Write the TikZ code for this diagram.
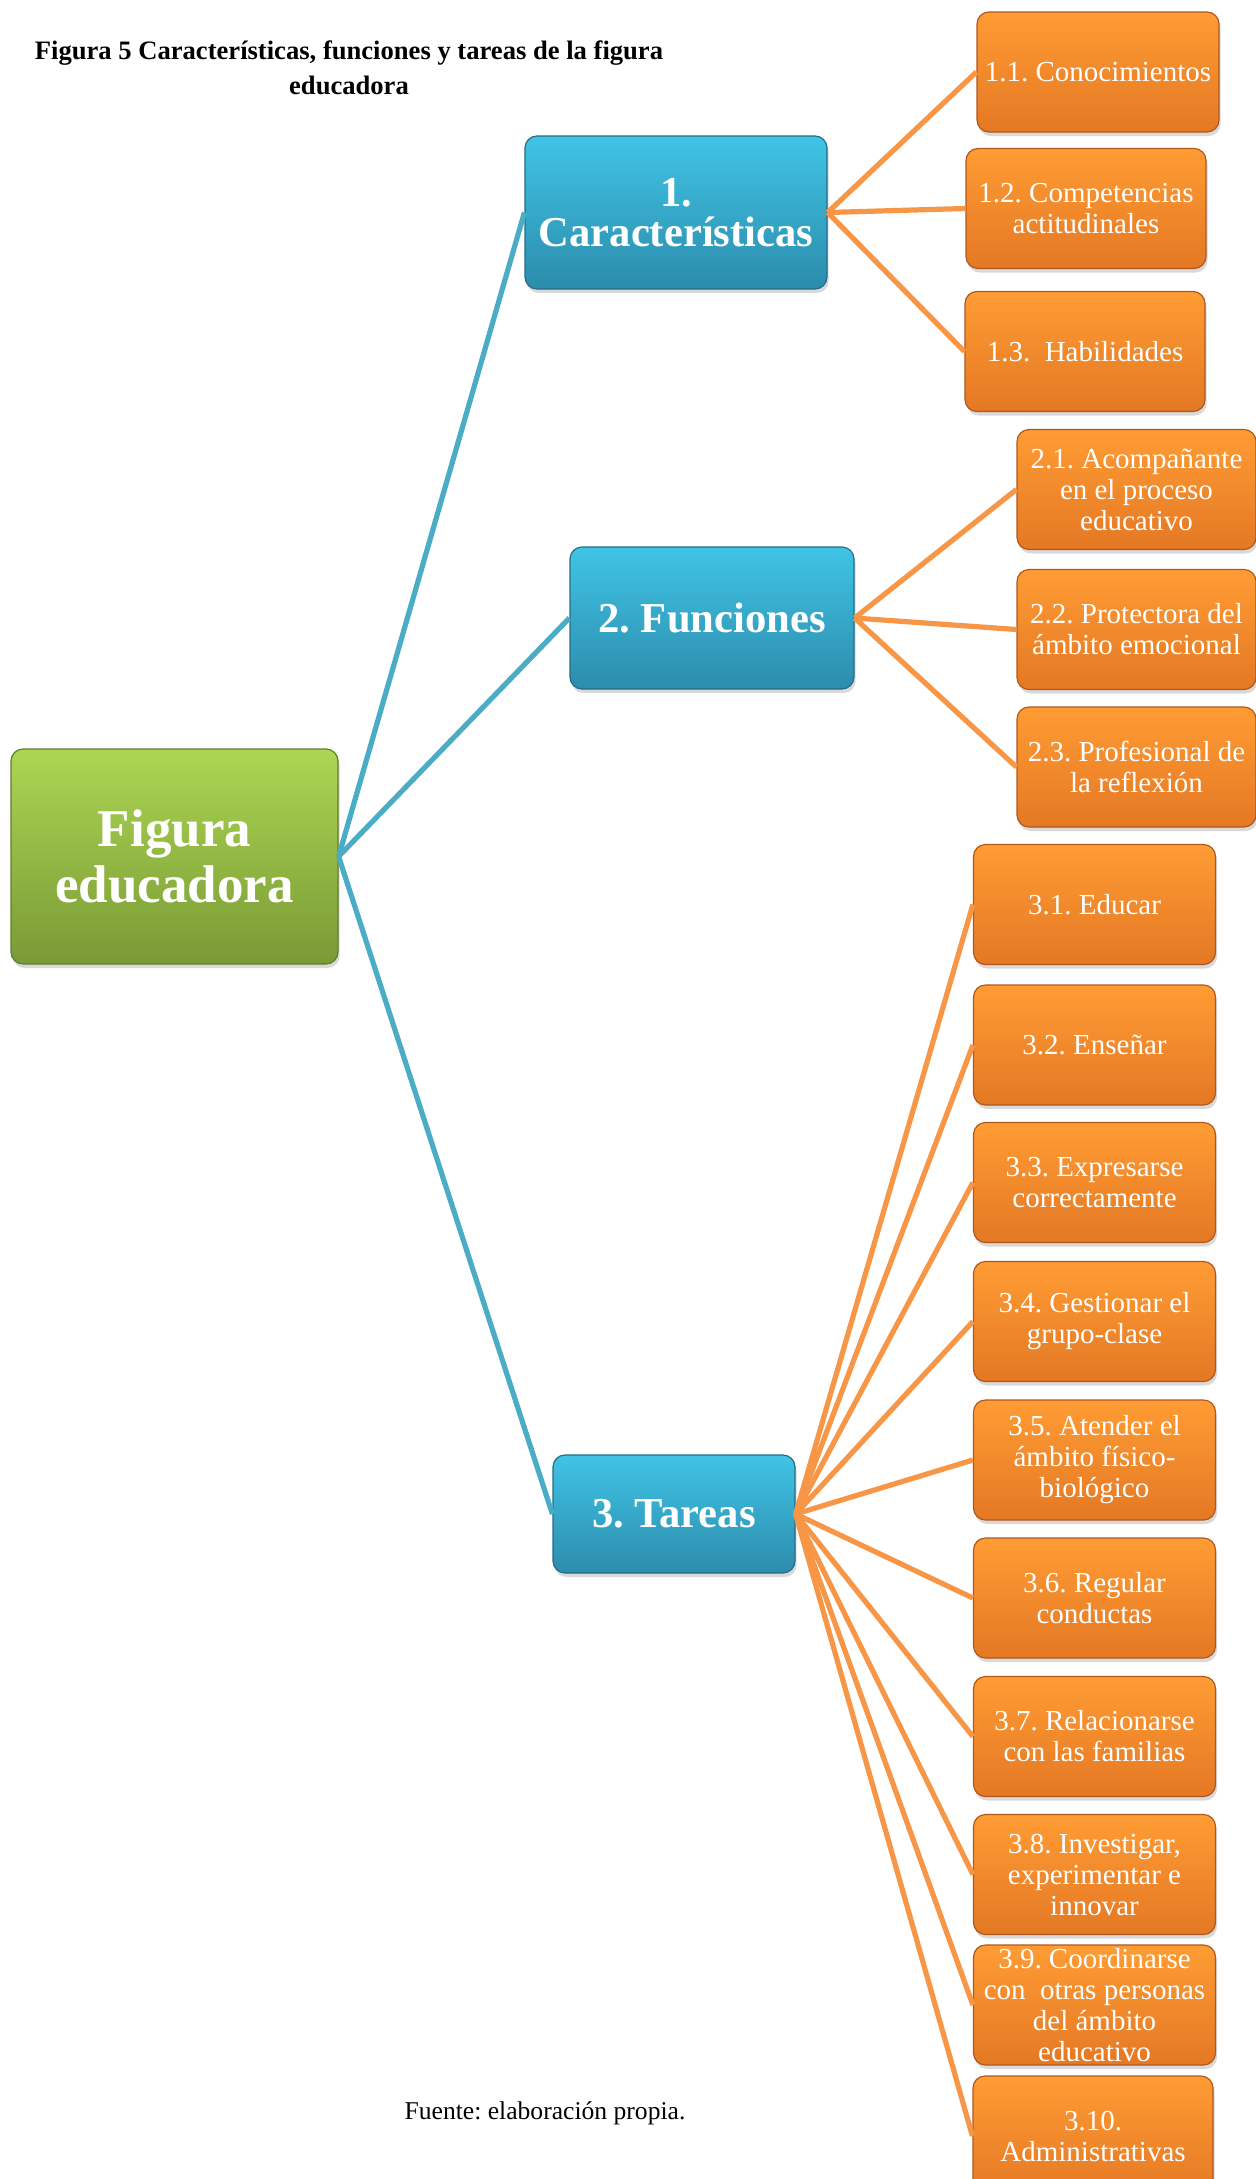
\documentclass[tikz,border=0pt]{standalone}
\usepackage{fontspec}
\setmainfont{Liberation Serif}
\usetikzlibrary{shadows}
\frenchspacing
\definecolor{greenT}{RGB}{172,214,82}
\definecolor{greenB}{RGB}{122,154,54}
\definecolor{greenD}{RGB}{98,124,44}
\definecolor{blueT}{RGB}{64,196,230}
\definecolor{blueB}{RGB}{44,140,172}
\definecolor{blueD}{RGB}{36,108,136}
\definecolor{orT}{RGB}{255,156,52}
\definecolor{orB}{RGB}{228,120,36}
\definecolor{orD}{RGB}{176,88,28}
\definecolor{blueline}{RGB}{75,172,198}
\definecolor{orline}{RGB}{247,150,70}
\tikzset{
  basebox/.style={rounded corners=6pt, line width=0.6pt, text=white, align=center, inner sep=1pt,
    drop shadow={shadow xshift=0.8pt, shadow yshift=-2pt, opacity=0.3}},
  mainbox/.style={basebox, top color=greenT, bottom color=greenB, draw=greenD,
    minimum width=163.5pt, minimum height=107.5pt, font=\bfseries\fontsize{26.5}{28}\selectfont},
  bluebox/.style={basebox, top color=blueT, bottom color=blueB, draw=blueD,
    font=\bfseries\fontsize{21.3}{20}\selectfont},
  orbox/.style={basebox, top color=orT, bottom color=orB, draw=orD,
    minimum width=121pt, minimum height=60pt, font=\fontsize{14.5}{15.5}\selectfont},
  bline/.style={draw=blueline, line width=2.6pt},
  oline/.style={draw=orline, line width=2.6pt},
}
\begin{document}
\begin{tikzpicture}[x=0.5pt,y=-0.5pt]
\useasboundingbox (0,0) rectangle (1256,2179);
\node[font=\bfseries\fontsize{13.3}{17.5}\selectfont, align=center] (title) at (349,68)
  {Figura 5 Características, funciones y tareas de la figura\\educadora};
\node[mainbox] (main) at (174.5,856.5) {Figura\\educadora};
\node[bluebox, minimum width=151pt, minimum height=76.5pt] (c1) at (676,212.5) {1.\\Características};
\node[bluebox, minimum width=142pt, minimum height=71pt] (c2) at (712,618) {2. Funciones};
\node[bluebox, minimum width=121pt, minimum height=59pt] (c3) at (674,1514) {3. Tareas};

\node[orbox] (a1) at (1098,72) {1.1. Conocimientos};
\node[orbox, minimum width=120pt] (a2) at (1086,208.5) {1.2. Competencias\\actitudinales};
\node[orbox, minimum width=120pt] (a3) at (1085,351.5) {1.3.\ \ Habilidades};

\node[orbox, minimum width=119.5pt] (b1) at (1136.5,489.5) {2.1. Acompañante\\en el proceso\\educativo};
\node[orbox, minimum width=119.5pt] (b2) at (1136.5,629.5) {2.2. Protectora del\\ámbito emocional};
\node[orbox, minimum width=119.5pt] (b3) at (1136.5,767) {2.3. Profesional de\\la reflexión};

\node[orbox] (t1) at (1094.5,904.5) {3.1. Educar};
\node[orbox] (t2) at (1094.5,1045) {3.2. Enseñar};
\node[orbox] (t3) at (1094.5,1182.5) {3.3. Expresarse\\correctamente};
\node[orbox] (t4) at (1094.5,1321.5) {3.4. Gestionar el\\grupo-clase};
\node[orbox] (t5) at (1094.5,1460) {3.5. Atender el\\ámbito físico-\\biológico};
\node[orbox] (t6) at (1094.5,1598) {3.6. Regular\\conductas};
\node[orbox] (t7) at (1094.5,1736.5) {3.7. Relacionarse\\con las familias};
\node[orbox] (t8) at (1094.5,1874.5) {3.8. Investigar,\\experimentar e\\innovar};
\node[orbox] (t9) at (1094.5,2005) {3.9. Coordinarse\\con\ \ otras personas\\del ámbito\\educativo};
\node[orbox, minimum width=120pt] (t10) at (1093,2136) {3.10.\\Administrativas};

\node[font=\fontsize{12.8}{14}\selectfont] (src) at (545,2113) {Fuente: elaboración propia.};

\draw[bline] (main.east) -- (c1.west);
\draw[bline] (main.east) -- (c2.west);
\draw[bline] (main.east) -- (c3.west);
\foreach \n in {a1,a2,a3} \draw[oline] (c1.east) -- (\n.west);
\foreach \n in {b1,b2,b3} \draw[oline] (c2.east) -- (\n.west);
\foreach \n in {t1,t2,t3,t4,t5,t6,t7,t8,t9,t10} \draw[oline] (c3.east) -- (\n.west);
\end{tikzpicture}
\end{document}
